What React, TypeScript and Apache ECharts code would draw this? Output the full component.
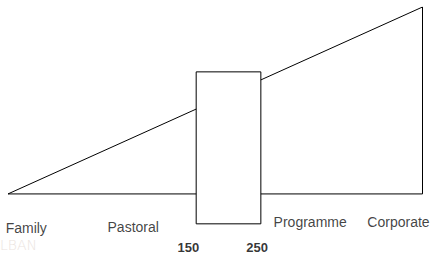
import React, { useEffect, useRef } from "react";
import * as echarts from "echarts";

// Outline of the growth curve (x: growth scale 0-100, y: height 0-100)
const outlineX = [0, 100, 100, 0];
const outlineY = [0, 100, 0, 0];

// Transition box: [xStart, xEnd, yBottom, yTop]
const transitionBox = [45.4, 61.0, -16, 65.3];

// Stage names and where they sit on the scale
const stages = ["Family", "Pastoral", "Programme", "Corporate"];
const stageX = [4.4, 30.2, 72.9, 94.2];
const stageY = [-18.1, -17.8, -14.9, -14.9];

// Threshold labels
const thresholds = ["150", "250"];
const thresholdX = [43.5, 60.1];
const thresholdY = [-28.6, -28.6];

const FONT = "'Liberation Sans', Arial, Helvetica, sans-serif";

export default function App() {
  const ref = useRef<HTMLDivElement>(null);

  useEffect(() => {
    if (!ref.current) return;
    const chart = echarts.init(ref.current, undefined, { renderer: "svg" });

    const outline = outlineX.map((x, i) => [x, outlineY[i]]);
    const stageData = stages.map((name, i) => ({ name, value: [stageX[i], stageY[i]] }));
    const thresholdData = thresholds.map((name, i) => ({
      name,
      value: [thresholdX[i], thresholdY[i]],
    }));

    chart.setOption({
      animation: false,
      backgroundColor: "#ffffff",
      grid: { left: 8, right: 10.5, top: 7, bottom: 4 },
      xAxis: { type: "value", min: 0, max: 100, show: false },
      yAxis: { type: "value", min: -30, max: 100, show: false },
      graphic: [
        {
          type: "text",
          left: 0,
          top: 238,
          silent: true,
          style: {
            text: "LBAN",
            fill: "#ebe4e0",
            font: "300 14px 'DejaVu Sans', sans-serif",
          },
          z: -1,
        },
      ],
      series: [
        {
          type: "line",
          data: outline,
          symbol: "none",
          silent: true,
          lineStyle: { color: "#000", width: 1 },
          z: 2,
        },
        {
          type: "custom",
          silent: true,
          z: 3,
          data: [transitionBox],
          renderItem: (params: any, api: any) => {
            const p0 = api.coord([api.value(0), api.value(3)]);
            const p1 = api.coord([api.value(1), api.value(2)]);
            return {
              type: "rect",
              shape: { x: p0[0], y: p0[1], width: p1[0] - p0[0], height: p1[1] - p0[1] },
              style: { fill: "#ffffff", stroke: "#000", lineWidth: 1 },
            };
          },
        },
        {
          type: "scatter",
          silent: true,
          symbolSize: 0,
          data: stageData,
          z: 4,
          label: {
            show: true,
            position: "inside",
            formatter: "{b}",
            color: "#111",
            fontSize: 14,
            fontFamily: FONT,
          },
        },
        {
          type: "scatter",
          silent: true,
          symbolSize: 0,
          data: thresholdData,
          z: 4,
          label: {
            show: true,
            position: "inside",
            formatter: "{b}",
            color: "#000",
            fontSize: 13,
            fontWeight: "bold",
            fontFamily: FONT,
          },
        },
      ],
    });

    return () => chart.dispose();
  }, []);

  return (
    <div
      ref={ref}
      style={{ position: "absolute", left: 0, top: 0, width: 433, height: 254 }}
    />
  );
}
